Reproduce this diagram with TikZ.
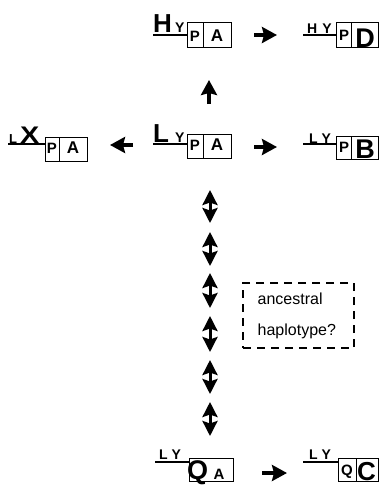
\documentclass[tikz,border=0pt]{standalone}
\usepackage{fontspec}
\setmainfont{Liberation Sans}
\usetikzlibrary{arrows.meta}
\newcommand{\fs}[1]{\fontsize{#1}{#1}\selectfont\bfseries}
\begin{document}
\begin{tikzpicture}[x=1pt,y=-1pt,
  lt/.style={inner sep=0pt, anchor=base},
  ltw/.style={inner sep=0pt, anchor=base west},
  cell/.style={draw, line width=0.9pt, inner sep=0pt, minimum width=#1},
  uline/.style={line width=1.3pt},
  arr/.style={line width=3.5pt, -{Stealth[length=15pt,width=16pt,inset=2pt]}},
  dbl/.style={line width=3pt, {Stealth[length=15pt,width=15pt,inset=2.5pt]}-{Stealth[length=15pt,width=15pt,inset=2.5pt]}},
  dashbox/.style={draw, line width=2pt, dash pattern=on 8pt off 6pt, inner sep=0pt}
]
\useasboundingbox (0,0) rectangle (381,485);

% ---------- H_Y [P|A] (top middle)
\node[cell=16, minimum height=25] (hP) at (195,34.5) {};
\node[cell=28, minimum height=25] (hA) at (217,34.5) {};
\node[ltw, font=\fs{26}] (hH) at (153,32) {H};
\node[ltw, font=\fs{14}] (hY) at (175,32) {Y};
\draw[uline] (153,35) coordinate (hu) -- (hu -| hP.west);
\node[lt, font=\fs{15}] (hPt) at (195,41) {P};
\node[lt, font=\fs{17}] (hAt) at (217,41) {A};

% ---------- H Y [P|D] (top right)
\node[cell=15, minimum height=25] (dP) at (344,34.5) {};
\node[cell=27, minimum height=25] (dD) at (365,34.5) {};
\node[ltw, font=\fs{14}] (dHY) at (307,33) {H\hspace{5pt}Y};
\draw[uline] (303,35) coordinate (du) -- (du -| dP.west);
\node[lt, font=\fs{15}] (dPt) at (344,40) {P};
\node[lt, font=\fs{27}] (dDt) at (365,47) {D};

% ---------- L_Y [P|A] (middle)
\node[cell=16, minimum height=24] (lP) at (195,146) {};
\node[cell=28, minimum height=24] (lA) at (217,146) {};
\node[ltw, font=\fs{26}] (lL) at (153,142) {L};
\node[ltw, font=\fs{14}] (lY) at (175,142) {Y};
\draw[uline] (153,144) coordinate (lu) -- (lu -| lP.west);
\node[lt, font=\fs{15}] (lPt) at (195,150) {P};
\node[lt, font=\fs{17}] (lAt) at (217,150) {A};

% ---------- L X [P|A] (left)
\node[cell=14, minimum height=24] (xP) at (52,149) {};
\node[cell=28, minimum height=24] (xA) at (73,149) {};
\node[ltw, font=\fs{13}] (xL) at (9,143) {L};
\node[ltw, font=\fs{24}, xscale=1.2] (xX) at (20,143) {X};
\draw[uline] (8,144) coordinate (xu) -- (xu -| xP.west);
\node[lt, font=\fs{15}] (xPt) at (52,153) {P};
\node[lt, font=\fs{17}] (xAt) at (73,153) {A};

% ---------- L Y [P|B] (right)
\node[cell=15, minimum height=23] (bP) at (344,147.5) {};
\node[cell=27, minimum height=23] (bB) at (365,147.5) {};
\node[ltw, font=\fs{14}] (bLY) at (309,143) {L Y};
\draw[uline] (303,144) coordinate (bu) -- (bu -| bP.west);
\node[lt, font=\fs{15}] (bPt) at (344,152) {P};
\node[lt, font=\fs{27}] (bBt) at (365,158) {B};

% ---------- L Y [Q A] (bottom middle)
\node[cell=44, minimum height=23] (qbox) at (211,470) {};
\node[ltw, font=\fs{14}] (qLY) at (159,459) {L Y};
\draw[uline] (155,462) coordinate (qu) -- (qu -| qbox.west);
\node[ltw, font=\fs{27}] (qQt) at (187,479) {Q};
\node[lt, font=\fs{15}] (qAt) at (219,479) {A};

% ---------- L Y [Q|C] (bottom right)
\node[cell=18, minimum height=23] (cQ) at (347,469.5) {};
\node[cell=22, minimum height=23] (cC) at (367,469.5) {};
\node[ltw, font=\fs{14}] (cLY) at (309,459) {L Y};
\draw[uline] (303,462) coordinate (cu) -- (cu -| cQ.west);
\node[lt, font=\fs{15}] (cQt) at (347,475) {Q};
\node[lt, font=\fs{26}] (cCt) at (366.5,480) {C};

% ---------- ancestral haplotype box
\node[dashbox, minimum width=111, minimum height=65] (anc) at (298.5,315.5) {};
\node[anchor=west, align=left, inner sep=0pt, font=\fontsize{16}{31}\selectfont] (anctext) at (257.5,315.5) {ancestral\\haplotype?};

% ---------- arrows
\coordinate (u1) at (209,104); \coordinate (u2) at (209,80);
\draw[arr] (u1) -- (u2);
\coordinate (r1a) at (254,35); \coordinate (r1b) at (277,35);
\draw[arr] (r1a) -- (r1b);
\coordinate (r2a) at (254,147); \coordinate (r2b) at (277,147);
\draw[arr] (r2a) -- (r2b);
\coordinate (la) at (133,145); \coordinate (lb) at (110,145);
\draw[arr] (la) -- (lb);
\coordinate (r3a) at (262,473); \coordinate (r3b) at (287,473);
\draw[arr] (r3a) -- (r3b);

\foreach \i/\a/\b in {1/190/223, 2/232/266, 3/273/308, 4/316/352, 5/360/394, 6/402/436}{
  \coordinate (d\i a) at (210,\a);
  \coordinate (d\i b) at (210,\b);
  \draw[dbl] (d\i a) -- (d\i b);
}
\end{tikzpicture}
\end{document}
